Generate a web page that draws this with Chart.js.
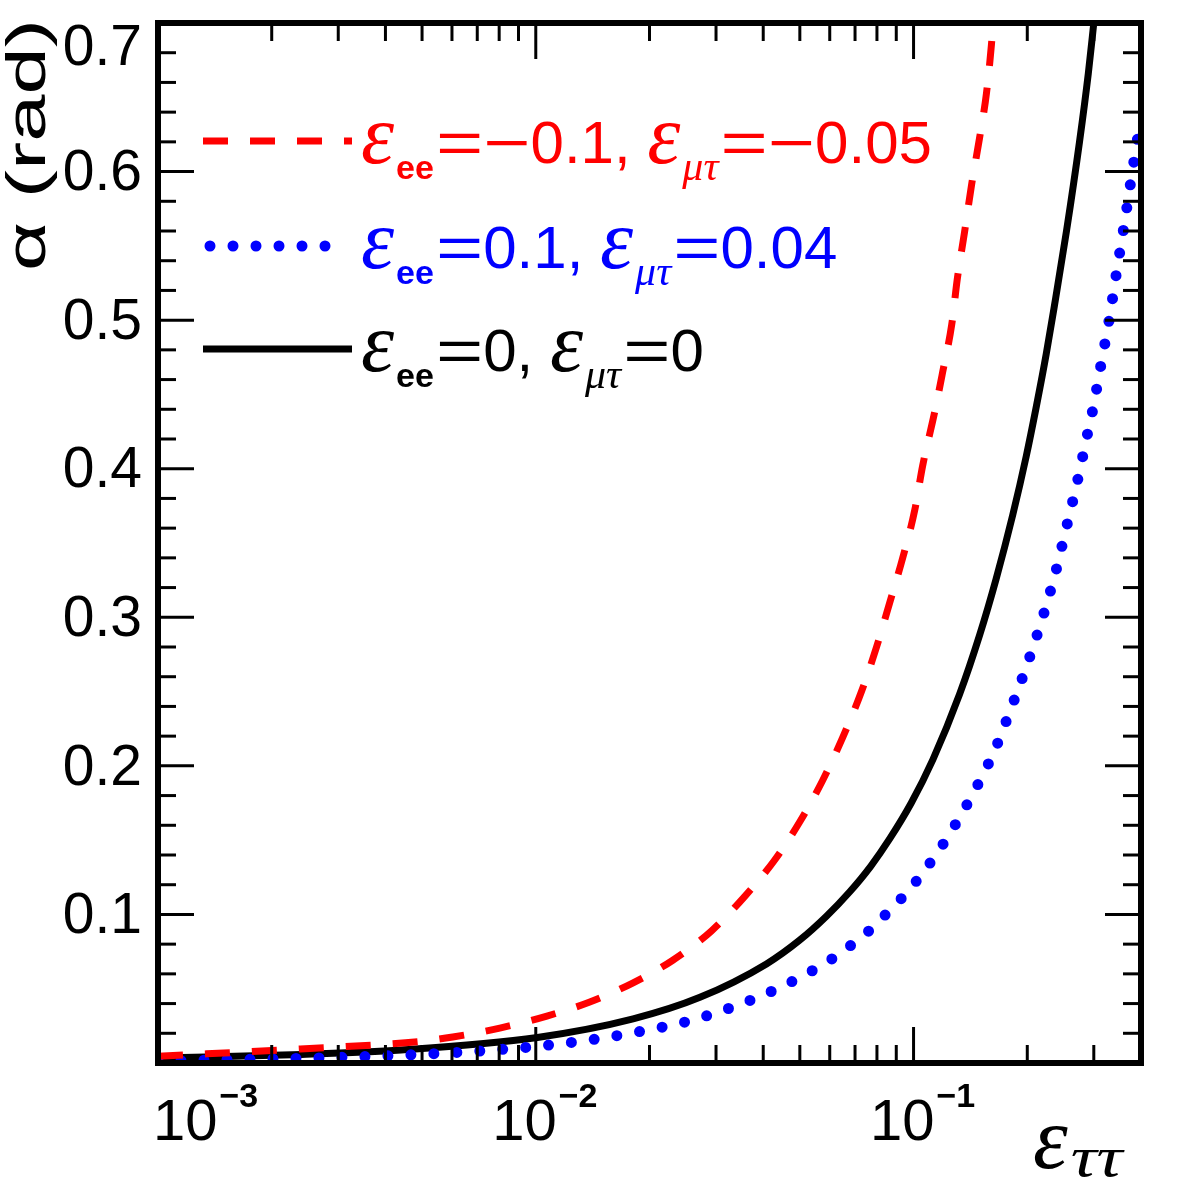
<!DOCTYPE html>
<html>
<head>
<meta charset="utf-8">
<script src="https://cdn.jsdelivr.net/npm/chart.js@4/dist/chart.umd.min.js"></script>
<style>
html, body { margin: 0; padding: 0; background: #fff; }
#alphaChart { display: block; }
</style>
</head>
<body>
<canvas id="alphaChart" width="1181" height="1181"></canvas>
<script>
// epsilon_tautau (x) and mixing angle alpha in rad (y)
var redX = [0.001, 0.00238, 0.00493, 0.00603, 0.00803, 0.0107, 0.0139, 0.0181, 0.023, 0.0292, 0.0357, 0.0429, 0.0499, 0.0574, 0.0649, 0.0728, 0.0798, 0.0865, 0.0936, 0.1007, 0.1057, 0.1137, 0.1194, 0.1262, 0.1306, 0.1364, 0.1424, 0.1495, 0.156, 0.1607, 0.1624];
var redY = [0.0045, 0.0095, 0.0145, 0.0175, 0.0235, 0.0316, 0.041, 0.054, 0.069, 0.089, 0.112, 0.1366, 0.162, 0.19, 0.219, 0.25, 0.28, 0.31, 0.34, 0.372, 0.402, 0.438, 0.465, 0.497, 0.528, 0.559, 0.591, 0.6225, 0.653, 0.685, 0.7];

var blueX = [0.001, 0.00456, 0.0094, 0.0143, 0.0191, 0.0252, 0.0332, 0.0434, 0.0561, 0.063, 0.0711, 0.0793, 0.0875, 0.0964, 0.1056, 0.115, 0.1245, 0.134, 0.144, 0.154, 0.1637, 0.1817, 0.2003, 0.2194, 0.2375, 0.254, 0.2717, 0.2885, 0.298, 0.3135, 0.33, 0.345, 0.361, 0.377, 0.3946, 0.4];
var blueY = [0.0012, 0.0054, 0.0105, 0.016, 0.0215, 0.028, 0.0377, 0.0498, 0.0646, 0.0727, 0.0828, 0.0929, 0.1043, 0.1151, 0.1279, 0.1406, 0.1541, 0.1676, 0.1817, 0.196, 0.21, 0.2396, 0.269, 0.2995, 0.33, 0.3607, 0.392, 0.423, 0.4394, 0.4702, 0.5013, 0.533, 0.564, 0.5954, 0.6273, 0.636];

var blackX = [0.001, 0.0024, 0.0044, 0.0101, 0.0181, 0.0272, 0.0408, 0.0499, 0.0588, 0.0677, 0.077, 0.0865, 0.0986, 0.1125, 0.1323, 0.1495, 0.1654, 0.1831, 0.1987, 0.2111, 0.2244, 0.236, 0.254, 0.275, 0.29, 0.3];
var blackY = [0.0033, 0.0058, 0.0088, 0.0172, 0.0297, 0.0442, 0.0667, 0.0826, 0.0988, 0.1151, 0.1324, 0.151, 0.175, 0.2042, 0.248, 0.2878, 0.3258, 0.369, 0.4083, 0.4412, 0.4769, 0.5098, 0.56, 0.6201, 0.6656, 0.7];

var yTickLabels = ['0.1', '0.2', '0.3', '0.4', '0.5', '0.6', '0.7'];
var xTickExps = [-3, -2, -1];

var legendRows = [
  { color: '#ff0000', ee: ['\u2212', '0.1'], mt: ['\u2212', '0.05'] },
  { color: '#0000ff', ee: ['', '0.1'], mt: ['', '0.04'] },
  { color: '#000000', ee: ['', '0'], mt: ['', '0'] }
];

function pts(xs, ys) {
  return xs.map(function (x, i) { return { x: x, y: ys[i] }; });
}

var SANS = '"Liberation Sans", Arial, sans-serif';
var SERIF = '"Liberation Serif", "DejaVu Serif", serif';

// draws text pieces one after another; pieces may be lowered (subscripts) or stretched
function drawPieces(c, x, y, pieces, color) {
  c.fillStyle = color;
  c.textAlign = 'left';
  c.textBaseline = 'alphabetic';
  pieces.forEach(function (p) {
    if (!p.t) return;
    var sx = p.sx || 1;
    c.font = p.font;
    c.save();
    c.translate(x, y + (p.dy || 0));
    c.scale(sx, 1);
    c.fillText(p.t, 0, 0);
    c.restore();
    x += c.measureText(p.t).width * sx + (p.after || 0);
  });
  return x;
}

var rootFrame = {
  id: 'rootFrame',
  afterDatasetsDraw: function (chart) {
    var c = chart.ctx;
    var a = chart.chartArea;
    var xs = chart.scales.x, ys = chart.scales.y;
    c.save();

    // ticks inside the frame, all four sides
    c.strokeStyle = '#000';
    c.lineWidth = 3;
    c.lineCap = 'butt';
    function seg(x1, y1, x2, y2) { c.beginPath(); c.moveTo(x1, y1); c.lineTo(x2, y2); c.stroke(); }

    for (var i = 1; i < 35; i++) {
      var py = ys.getPixelForValue(i * 0.02);
      var len = (i % 5 === 0) ? 36 : 18;
      seg(a.left, py, a.left + len, py);
      seg(a.right, py, a.right - len, py);
    }
    xTickExps.forEach(function (e) {
      for (var m = 1; m <= 9; m++) {
        var val = m * Math.pow(10, e);
        if (val <= xs.min * 1.0001 || val >= xs.max) continue;
        var px = xs.getPixelForValue(val);
        var l = (m === 1) ? 36 : 18;
        seg(px, a.bottom, px, a.bottom - l);
        seg(px, a.top, px, a.top + l);
      }
    });

    // frame
    c.lineWidth = 6;
    c.strokeRect(a.left, a.top, a.right - a.left, a.bottom - a.top);

    // y tick labels
    c.fillStyle = '#000';
    c.font = '57px ' + SANS;
    c.textAlign = 'right';
    c.textBaseline = 'middle';
    yTickLabels.forEach(function (s) {
      var yy = Math.max(ys.getPixelForValue(parseFloat(s)) + 3, a.top + 26);
      c.fillText(s, a.left - 16, yy);
    });

    // x tick labels 10^n
    xTickExps.forEach(function (e) {
      var px = xs.getPixelForValue(Math.pow(10, e));
      c.font = '58px ' + SANS;
      var w10 = c.measureText('10').width;
      c.font = 'bold 34px ' + SANS;
      var we = c.measureText('\u2212' + (-e)).width;
      var x0 = Math.max(px - (w10 + we) / 2 + 8, 153);
      c.textAlign = 'left';
      c.textBaseline = 'alphabetic';
      c.font = '58px ' + SANS;
      c.fillText('10', x0, 1140);
      c.font = 'bold 34px ' + SANS;
      c.fillText('\u2212' + (-e), x0 + w10 + 2, 1107);
    });

    // x axis title
    drawPieces(c, 1033, 1168, [
      { t: '\u03b5', font: 'italic 88px ' + SERIF, after: 3 },
      { t: '\u03c4\u03c4', font: 'italic 58px ' + SERIF, dy: 8, sx: 1.25 }
    ], '#000');

    // y axis title, rotated and stretched along the text
    c.save();
    c.translate(45, 271);
    c.rotate(-Math.PI / 2);
    c.font = '56px ' + SANS;
    var title = '\u03b1 (rad)';
    var tw = c.measureText(title).width;
    c.scale(252 / tw, 1);
    c.textAlign = 'left';
    c.textBaseline = 'alphabetic';
    c.fillText(title, 0, 0);
    c.restore();

    // legend
    var rowY = [141, 246, 349];
    chart.data.datasets.forEach(function (ds, k) {
      var y = rowY[k];
      c.save();
      c.strokeStyle = ds.borderColor;
      c.lineWidth = ds.borderWidth;
      c.lineCap = ds.borderCapStyle || 'butt';
      c.setLineDash(ds.borderDash || []);
      c.beginPath();
      if (ds.borderCapStyle === 'round') { c.moveTo(210, y); c.lineTo(336, y); }
      else { c.moveTo(203, y); c.lineTo(352, y); }
      c.stroke();
      c.restore();
      var r = legendRows[k];
      var eps = 'italic 84px ' + SERIF;
      var main = '60px ' + SANS;
      drawPieces(c, 361, y + 22, [
        { t: '\u03b5', font: eps, after: 2 },
        { t: 'ee', font: 'bold 34px ' + SANS, dy: 16, after: 2 },
        { t: '=', font: main, sx: 1.35 },
        { t: r.ee[0], font: main, sx: 1.35 },
        { t: r.ee[1] + ', ', font: main },
        { t: '\u03b5', font: eps, after: 2 },
        { t: '\u03bc\u03c4', font: 'italic 42px ' + SERIF, dy: 17, after: 2 },
        { t: '=', font: main, sx: 1.35 },
        { t: r.mt[0], font: main, sx: 1.35 },
        { t: r.mt[1], font: main }
      ], r.color);
    });

    c.restore();
  }
};

var ctx = document.getElementById('alphaChart').getContext('2d');
var alphaChart = new Chart(ctx, {
  type: 'line',
  data: {
    datasets: [{
      label: 'eps_ee=-0.1, eps_mt=-0.05',
      data: pts(redX, redY),
      borderColor: '#ff0000',
      borderWidth: 7,
      borderDash: [25, 22],
      pointRadius: 0,
      cubicInterpolationMode: 'monotone',
      fill: false
    }, {
      label: 'eps_ee=0.1, eps_mt=0.04',
      data: pts(blueX, blueY),
      borderColor: '#0000ff',
      borderWidth: 11,
      borderDash: [0, 23],
      borderCapStyle: 'round',
      pointRadius: 0,
      cubicInterpolationMode: 'monotone',
      fill: false
    }, {
      label: 'eps_ee=0, eps_mt=0',
      data: pts(blackX, blackY),
      borderColor: '#000000',
      borderWidth: 7,
      pointRadius: 0,
      cubicInterpolationMode: 'monotone',
      fill: false
    }]
  },
  options: {
    responsive: false,
    animation: false,
    devicePixelRatio: 1,
    layout: { padding: { left: 158, right: 40, top: 23, bottom: 118 } },
    plugins: { legend: { display: false }, tooltip: { enabled: false } },
    scales: {
      x: { type: 'logarithmic', min: 0.001, max: 0.4, display: false },
      y: { type: 'linear', min: 0, max: 0.7, display: false }
    }
  },
  plugins: [rootFrame]
});
</script>
</body>
</html>
